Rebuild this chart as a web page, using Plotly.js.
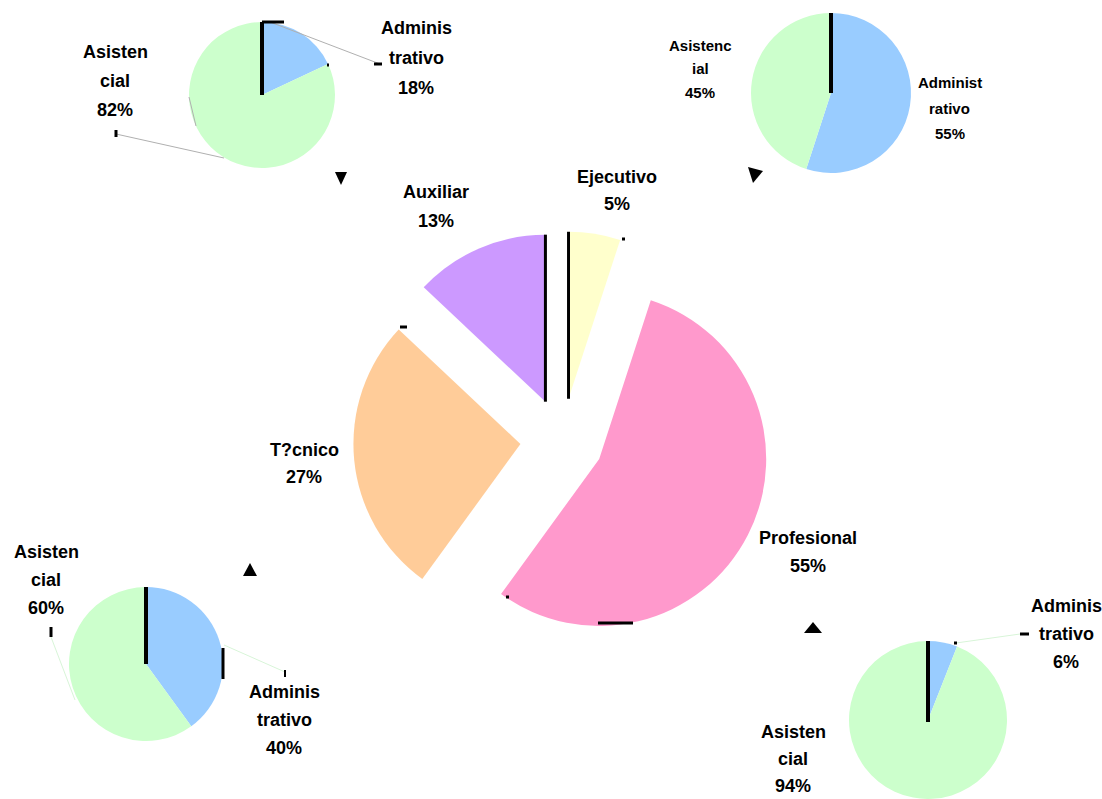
<!DOCTYPE html>
<html><head><meta charset="utf-8">
<script src="https://cdn.plot.ly/plotly-3.0.1.min.js"></script>
<style>html,body{margin:0;padding:0;background:#fff}#chart{width:1102px;height:799px}</style>
</head><body><div id="chart"></div>
<script>
// ---- data ----
const centralLabels = ['Ejecutivo', 'Profesional', 'T?cnico', 'Auxiliar'];
const centralValues = [5, 55, 27, 13];
const centralColors = ['#FFFFCC', '#FF99CC', '#FFCC99', '#CC99FF'];

const subLabels = ['Administrativo', 'Asistencial'];
const subColors = ['#99CCFF', '#CCFFCC'];
const tlValues = [18, 82];
const trValues = [55, 45];
const blValues = [40, 60];
const brValues = [6, 94];

// label line breaks as shown in the chart
const centralLabelLines = [['Ejecutivo'], ['Profesional'], ['T?cnico'], ['Auxiliar']];
const tlLabelLines = [['Adminis', 'trativo'], ['Asisten', 'cial']];
const trLabelLines = [['Administ', 'rativo'], ['Asistenc', 'ial']];
const blLabelLines = [['Adminis', 'trativo'], ['Asisten', 'cial']];
const brLabelLines = [['Adminis', 'trativo'], ['Asisten', 'cial']];

// ---- layout helpers ----
const W = 1102, H = 799;
const px = x => x / W;
const py = y => 1 - y / H;
function dom(cx, cy, r, pull) {
  const h = r * (1 + pull);
  return {x: [px(cx - h), px(cx + h)], y: [py(cy + h), py(cy - h)]};
}

const PULL = 0.25;
const central = {cx: 562, cy: 440, r: 167};
const pies = [
  {vals: tlValues, lines: tlLabelLines, cx: 262, cy: 95, r: 73,
   lab: [{x: 416, y: 28, dy: 30, fs: 18}, {x: 115, y: 52, dy: 29, fs: 18}]},
  {vals: trValues, lines: trLabelLines, cx: 831, cy: 93, r: 80,
   lab: [{x: 950, y: 83, dy: 25, fs: 15}, {x: 700, y: 45, dy: 24, fs: 15}]},
  {vals: blValues, lines: blLabelLines, cx: 146, cy: 664, r: 77,
   lab: [{x: 284, y: 692, dy: 28, fs: 18}, {x: 46, y: 552, dy: 28, fs: 18}]},
  {vals: brValues, lines: brLabelLines, cx: 928, cy: 722, r: 81,
   lab: [{x: 1066, y: 606, dy: 28, fs: 18}, {x: 793, y: 732, dy: 27, fs: 18}]}
];
const centralLab = [
  {x: 617, y: 177, dy: 27, fs: 18},
  {x: 808, y: 538, dy: 28, fs: 18},
  {x: 304, y: 450, dy: 27, fs: 18},
  {x: 436, y: 192, dy: 29, fs: 18}
];

const FONT = 'Liberation Sans, Arial, sans-serif';
const data = [];
const annotations = [];
const shapes = [];

function addLabel(lines, value, pos) {
  const all = lines.concat([value + '%']);
  all.forEach((t, i) => {
    annotations.push({
      xref: 'paper', yref: 'paper', x: px(pos.x), y: py(pos.y + i * pos.dy),
      xanchor: 'center', yanchor: 'middle', showarrow: false,
      text: '<b>' + t + '</b>', font: {family: FONT, size: pos.fs, color: '#000'}
    });
  });
}

// central exploded pie
data.push({
  type: 'pie', labels: centralLabels, values: centralValues,
  marker: {colors: centralColors, line: {width: 0}},
  sort: false, direction: 'clockwise', rotation: 0,
  pull: centralValues.map(() => PULL), textinfo: 'none', hoverinfo: 'label+percent',
  domain: dom(central.cx, central.cy, central.r, PULL), showlegend: false
});
centralLabels.forEach((l, i) => addLabel(centralLabelLines[i], centralValues[i], centralLab[i]));

// black edges at 12 o'clock of the first and last central slices
(function () {
  const tot = centralValues.reduce((a, b) => a + b, 0);
  const p = central.r * PULL;
  const firstMid = (centralValues[0] / tot) * Math.PI;
  const lastMid = 2 * Math.PI - (centralValues[centralValues.length - 1] / tot) * Math.PI;
  [firstMid, lastMid].forEach(a => {
    const vx = central.cx + p * Math.sin(a), vy = central.cy - p * Math.cos(a);
    shapes.push({type: 'line', xref: 'paper', yref: 'paper',
      x0: px(vx), y0: py(vy), x1: px(vx), y1: py(vy - central.r),
      line: {color: '#000', width: 3}});
  });
})();

// small pies
pies.forEach(pi => {
  data.push({
    type: 'pie', labels: subLabels, values: pi.vals,
    marker: {colors: subColors, line: {width: 0}},
    sort: false, direction: 'clockwise', rotation: 0,
    textinfo: 'none', hoverinfo: 'label+percent',
    domain: dom(pi.cx, pi.cy, pi.r, 0), showlegend: false
  });
  subLabels.forEach((l, i) => addLabel(pi.lines[i], pi.vals[i], pi.lab[i]));
  shapes.push({type: 'line', xref: 'paper', yref: 'paper',
    x0: px(pi.cx), y0: py(pi.cy), x1: px(pi.cx), y1: py(pi.cy - pi.r),
    line: {color: '#000', width: 4}});
});

// decorations: leader lines, small ticks, triangles
const thin = (x0, y0, x1, y1, c) => shapes.push({type: 'line', xref: 'paper', yref: 'paper',
  x0: px(x0), y0: py(y0), x1: px(x1), y1: py(y1), line: {color: c, width: 1}});
const tick = (x0, y0, x1, y1, w) => shapes.push({type: 'line', xref: 'paper', yref: 'paper',
  x0: px(x0), y0: py(y0), x1: px(x1), y1: py(y1), line: {color: '#000', width: w}});
const tri = pts => shapes.push({type: 'path', xref: 'paper', yref: 'paper',
  path: 'M' + pts.map(p => px(p[0]) + ',' + py(p[1])).join(' L') + ' Z',
  fillcolor: '#000', line: {width: 0}});

thin(270, 22, 380, 64, '#b0b0b0');
thin(116, 134, 224, 158, '#b0b0b0');
thin(189, 97, 196, 126, '#b0b0b0');
thin(51, 637, 75, 700, '#d8f5d8');
thin(224, 645, 285, 672, '#d8f5d8');
thin(956, 643, 1020, 634, '#d8f5d8');

tick(262, 22, 284, 22, 3);
tick(374, 64, 382, 64, 3);
tick(116, 130, 116, 137, 3);
tick(327, 65, 329, 65, 3);
tick(223, 648, 223, 679, 3);
tick(51, 627, 51, 637, 3);
tick(285, 670, 285, 677, 2);
tick(1020, 634, 1029, 634, 3);
tick(954, 643, 957, 643, 3);
tick(598, 623, 633, 623, 3);
tick(400, 327, 407, 327, 3);
tick(622, 239, 625, 239, 3);
tick(506, 597, 509, 597, 3);

tri([[335, 172], [347, 172], [341, 185]]);
tri([[748, 167], [763, 171], [753, 183]]);
tri([[250, 563], [257, 576], [243, 576]]);
tri([[813, 622], [822, 633], [804, 633]]);

Plotly.newPlot('chart', data, {
  width: W, height: H, margin: {l: 0, r: 0, t: 0, b: 0},
  paper_bgcolor: '#fff', plot_bgcolor: '#fff',
  showlegend: false, annotations: annotations, shapes: shapes
}, {displayModeBar: false, staticPlot: true});
</script>
</body></html>
